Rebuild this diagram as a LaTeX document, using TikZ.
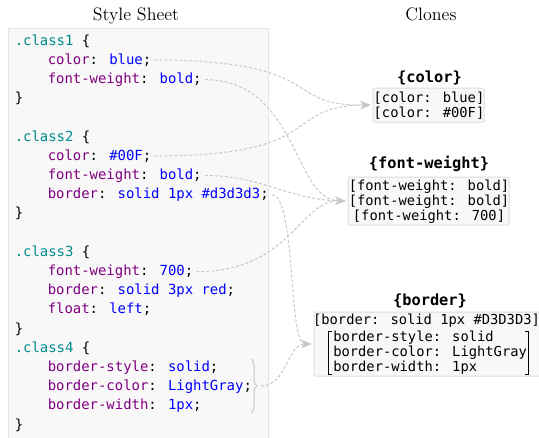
\documentclass[tikz,border=0pt]{standalone}
\usepackage{fontspec}
\usetikzlibrary{arrows.meta,decorations.pathreplacing}
\newfontfamily\codefont{DejaVu Sans Mono}
\definecolor{selc}{HTML}{008B8B}
\definecolor{propc}{HTML}{800080}
\definecolor{valc}{HTML}{0000FF}
\definecolor{panelbg}{HTML}{F8F8F8}
\definecolor{panelline}{HTML}{E4E4E4}
\definecolor{boxline}{HTML}{DDDDDD}
\definecolor{linkc}{HTML}{C8C8C8}
\newcommand\Pp[1]{\textcolor{propc}{#1}}
\newcommand\Vv[1]{\textcolor{valc}{#1}}
\newcommand\Ss[1]{\textcolor{selc}{#1}}
\begin{document}
\begin{tikzpicture}[x=0.75pt,y=-0.75pt,
  code/.style={font={\codefont\fontsize{10.45pt}{12pt}\selectfont}, inner sep=0pt, anchor=base west},
  clone/.style={font={\codefont\fontsize{10.34pt}{12pt}\selectfont}, inner sep=0pt, anchor=base},
  head/.style={font={\codefont\bfseries\fontsize{11.5pt}{13pt}\selectfont}, inner sep=0pt, anchor=base},
  title/.style={font={\fontsize{13.5pt}{16pt}\selectfont}, inner sep=0pt, anchor=base},
  clonebox/.style={draw=boxline, fill=panelbg, line width=0.75pt, inner sep=0pt, rounded corners=0.75pt},
  link/.style={draw=linkc, line width=0.75pt, dash pattern=on 2.25pt off 1.5pt,
    shorten <=2.25pt, shorten >=1.5pt,
    -{Stealth[length=7.5pt,width=6pt,inset=2.25pt,fill=linkc]}},
  brk/.style={line width=0.6pt, draw=black}
]
\useasboundingbox (0,0) rectangle (539,437);

% titles
\node[title] (tss) at (136,20) {Style Sheet};
\node[title] (tcl) at (431,20) {Clones};

% panel
\draw[draw=panelline, fill=panelbg, line width=0.75pt] (8,28) rectangle (268,445);

% code lines
\node[code] (c1sel)   at (14.5,45)    {\Ss{.class1} \{};
\node[code] (c1color) at (47.5,64.2)  {\Pp{color}: \Vv{blue};};
\node[code] (c1fw)    at (47.5,83.4)  {\Pp{font-weight}: \Vv{bold};};
\node[code] (c1end)   at (14.5,102.6) {\}};
\node[code] (c2sel)   at (14.5,141)   {\Ss{.class2} \{};
\node[code] (c2color) at (47.5,160.2) {\Pp{color}: \Vv{\#00F};};
\node[code] (c2fw)    at (47.5,179.4) {\Pp{font-weight}: \Vv{bold};};
\node[code] (c2bd)    at (47.5,198.6) {\Pp{border}: \Vv{solid 1px \#d3d3d3};};
\node[code] (c2end)   at (14.5,217.8) {\}};
\node[code] (c3sel)   at (14.5,256.2) {\Ss{.class3} \{};
\node[code] (c3fw)    at (47.5,275.4) {\Pp{font-weight}: \Vv{700};};
\node[code] (c3bd)    at (47.5,294.6) {\Pp{border}: \Vv{solid 3px red};};
\node[code] (c3fl)    at (47.5,313.8) {\Pp{float}: \Vv{left};};
\node[code] (c3end)   at (14.5,333)   {\}};
\node[code] (c4sel)   at (14.5,352.2) {\Ss{.class4} \{};
\node[code] (c4st)    at (47.5,371.4) {\Pp{border-style}: \Vv{solid};};
\node[code] (c4co)    at (47.5,390.6) {\Pp{border-color}: \Vv{LightGray};};
\node[code] (c4wd)    at (47.5,409.8) {\Pp{border-width}: \Vv{1px};};
\node[code] (c4end)   at (14.5,429)   {\}};

% brace on class4
\draw[draw=linkc, line width=0.75pt, decorate, decoration={brace, amplitude=4.5pt}]
  (251,359) -- (251,413);
\coordinate (brtip) at (258,386);

% clone boxes
\node[clonebox, minimum width=83.25pt, minimum height=25.5pt] (cbox) at (428.5,105) {};
\node[clonebox, minimum width=120.75pt, minimum height=36pt] (fbox) at (428.5,201) {};
\node[clonebox, minimum width=172.5pt, minimum height=48pt] (bbox) at (429,344) {};

% headings
\node[head] (hcol) at (429.5,82)  {\{color\}};
\node[head] (hfw)  at (429,168)   {\{font-weight\}};
\node[head] (hbd)  at (430,305)   {\{border\}};

% clone texts
\node[clone] (k1) at (429,102) {[color: blue]};
\node[clone] (k2) at (429,117) {[color: \#00F]};
\node[clone] (f1) at (429,190) {[font-weight: bold]};
\node[clone] (f2) at (429,205) {[font-weight: bold]};
\node[clone] (f3) at (429,220) {[font-weight: 700]};
\node[clone] (b1) at (426.5,324) {[border: solid 1px \#D3D3D3]};
\node[clone, anchor=base west] (b2) at (333,341) {border-style: solid};
\node[clone, anchor=base west] (b3) at (333,356) {border-color: LightGray};
\node[clone, anchor=base west] (b4) at (333,371) {border-width: 1px};
\draw[brk] (331.5,331) -- (328.5,331) -- (328.5,374) -- (331.5,374);
\draw[brk] (525,331) -- (528,331) -- (528,374) -- (525,374);

% links
\draw[link] (c1color.east) .. controls (330,61) and (280,106) .. (cbox.west);
\draw[link] (c2color.east) .. controls (330,156) and (280,106) .. (cbox.west);
\draw[link] (c1fw.east) .. controls (298,80) and (293,200) .. (fbox.west);
\draw[link] (c2fw.east) .. controls (260,175) and (290,200) .. (fbox.west);
\draw[link] (c3fw.east) .. controls (290,272) and (300,200) .. (fbox.west);
\draw[link] (c2bd.east) .. controls (296,195) and (288,344) .. (bbox.west);
\draw[link] (brtip) .. controls (287,386) and (287,344) .. (bbox.west);
\end{tikzpicture}
\end{document}
